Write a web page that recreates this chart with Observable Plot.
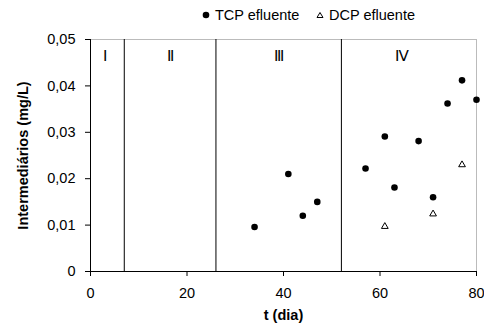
<!DOCTYPE html>
<html>
<head>
<meta charset="utf-8">
<script src="https://cdn.jsdelivr.net/npm/d3@7"></script>
<script src="https://cdn.jsdelivr.net/npm/@observablehq/plot@0.6"></script>
<style>
  body { margin: 0; background: #fff; font-family: Arial, "Liberation Sans", sans-serif; }
  #legend { height: 30px; position: relative; font-size: 14.5px; color: #000; }
  #legend .item { position: absolute; top: 7px; display: flex; align-items: center; white-space: nowrap; }
  #legend svg { margin-right: 5px; }
  g[aria-label="x-axis label"] text, g[aria-label="y-axis label"] text { font-weight: bold; }
</style>
</head>
<body>
<div id="legend"></div>
<div id="chart"></div>
<script>
const tcpDay = [34, 41, 44, 47, 57, 61, 63, 68, 71, 74, 77, 80];
const tcpVal = [0.0096, 0.021, 0.012, 0.015, 0.0222, 0.0291, 0.0181, 0.0281, 0.016, 0.0362, 0.0412, 0.037];
const dcpDay = [61, 71, 77];
const dcpVal = [0.0097, 0.0124, 0.023];
const phaseBounds = [7, 26, 52];
const phaseLabels = ["Ⅰ", "Ⅱ", "Ⅲ", "Ⅳ"];
const phaseLabelX = [3, 16.5, 39, 64.5];
const xTicks = [0, 20, 40, 60, 80];
const yTicks = [0, 0.01, 0.02, 0.03, 0.04, 0.05];
const seriesNames = ["TCP efluente", "DCP efluente"];

const tcp = tcpDay.map((d, i) => ({day: d, val: tcpVal[i]}));
const dcp = dcpDay.map((d, i) => ({day: d, val: dcpVal[i]}));
const phases = phaseLabels.map((l, i) => ({label: l, x: phaseLabelX[i]}));

const fmt = d => d === 0 ? "0" : d.toFixed(2).replace(".", ",");

const chart = Plot.plot({
  width: 484,
  height: 297,
  marginTop: 9,
  marginBottom: 56,
  marginLeft: 90,
  marginRight: 8,
  style: {fontSize: "14.5px", fontFamily: "Arial, 'Liberation Sans', sans-serif", color: "#000", background: "#fff"},
  x: {domain: [0, 80]},
  y: {domain: [0, 0.05]},
  marks: [
    Plot.ruleY([0.05], {stroke: "#bbb", strokeWidth: 1}),
    Plot.ruleX([80], {stroke: "#bbb", strokeWidth: 1}),
    Plot.ruleX(phaseBounds, {stroke: "#000", strokeWidth: 1}),
    Plot.ruleX([0], {stroke: "#000", strokeWidth: 1}),
    Plot.ruleY([0], {stroke: "#000", strokeWidth: 1}),
    Plot.axisX({ticks: xTicks, tickSize: 5, tickPadding: 11, label: "t (dia)", labelAnchor: "center", labelArrow: "none", labelOffset: 48}),
    Plot.axisY({ticks: yTicks, tickSize: 5, tickPadding: 10, tickFormat: fmt, label: "Intermediários (mg/L)", labelAnchor: "center", labelArrow: "none", labelOffset: 73}),
    Plot.text(phases, {x: "x", y: () => 0.0465, text: "label", fontSize: 15, fill: "#000"}),
    Plot.dot(tcp, {x: "day", y: "val", r: 3.3, fill: "#000", stroke: "none"}),
    Plot.dot(dcp, {x: "day", y: "val", symbol: "triangle", r: 2.5, fill: "#fff", stroke: "#000", strokeWidth: 1})
  ]
});
document.getElementById("chart").appendChild(chart);

const legend = document.getElementById("legend");
const symbols = [
  '<svg width="8" height="8"><circle cx="4" cy="4" r="3.3" fill="#000"/></svg>',
  '<svg width="8" height="8"><path d="M4,1.5 L7,6.5 L1,6.5 Z" fill="#fff" stroke="#000" stroke-width="1"/></svg>'
];
const lefts = [202, 316];
seriesNames.forEach((n, i) => {
  const it = document.createElement("div");
  it.className = "item";
  it.style.left = lefts[i] + "px";
  it.innerHTML = symbols[i] + "<span>" + n + "</span>";
  legend.appendChild(it);
});
</script>
</body>
</html>
